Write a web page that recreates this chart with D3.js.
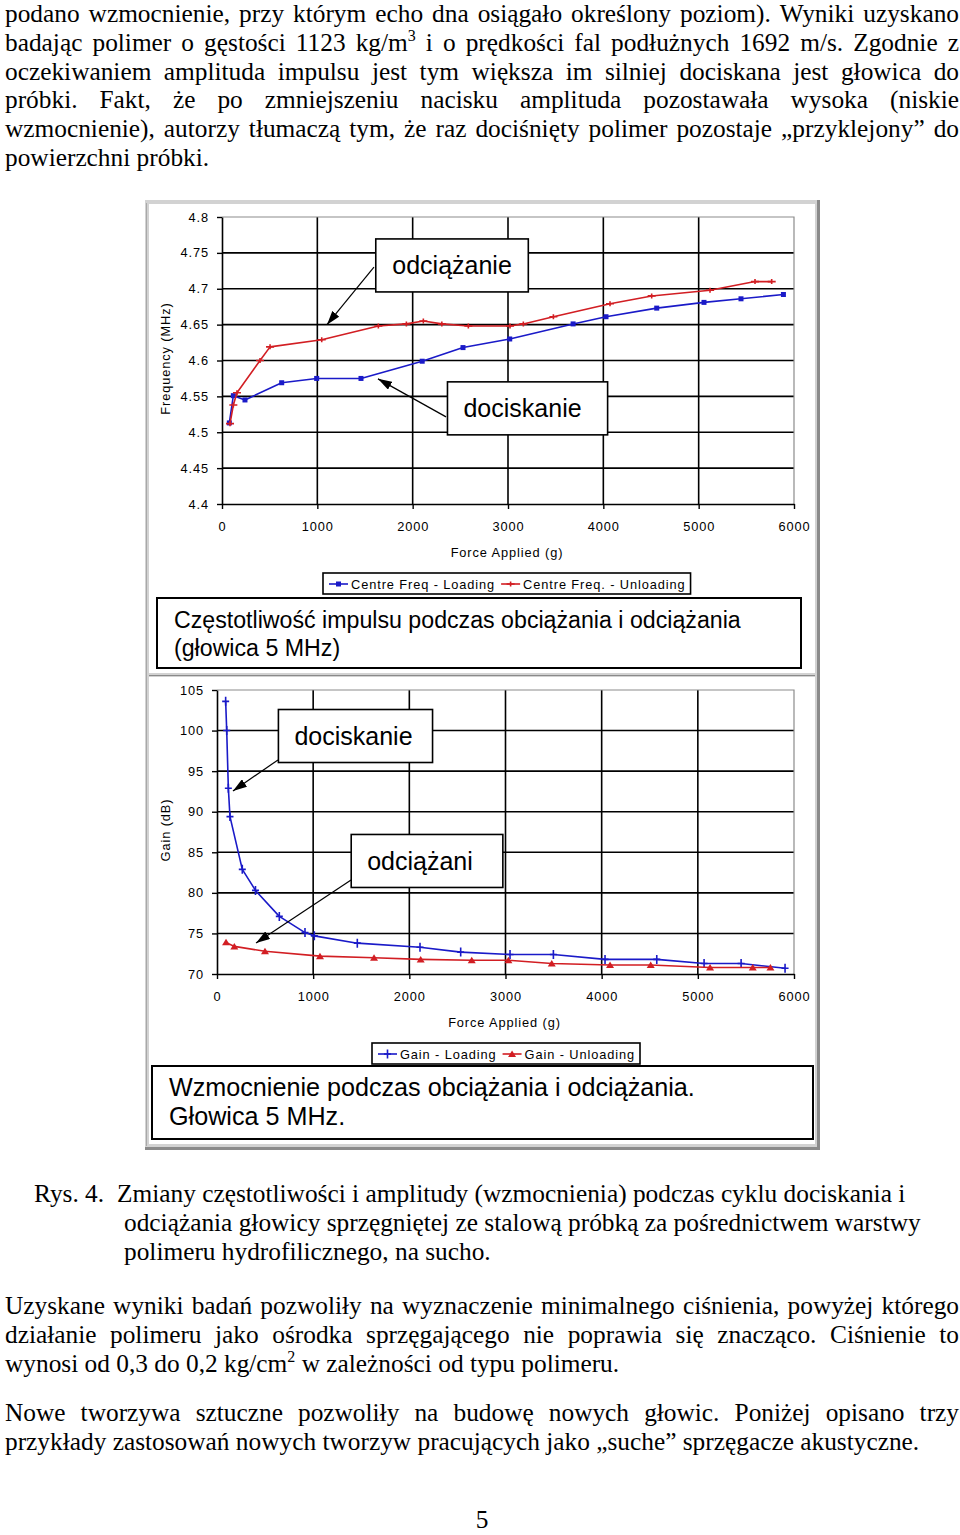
<!DOCTYPE html>
<html>
<head>
<meta charset="utf-8">
<script src="https://cdn.jsdelivr.net/npm/d3@7"></script>
<style>
  body { margin: 0; background: #fff; }
</style>
</head>
<body>
<svg id="page" width="960" height="1535"></svg>
<script>
// ---- text of the page ----
const introLines = [
  "podano wzmocnienie, przy którym echo dna osiągało określony poziom). Wyniki uzyskano",
  "badając polimer o gęstości 1123 kg/m^3 i o prędkości fal podłużnych 1692 m/s. Zgodnie z",
  "oczekiwaniem amplituda impulsu jest tym większa im silniej dociskana jest głowica do",
  "próbki. Fakt, że po zmniejszeniu nacisku amplituda pozostawała wysoka (niskie",
  "wzmocnienie), autorzy tłumaczą tym, że raz dociśnięty polimer pozostaje „przyklejony” do",
  "powierzchni próbki."
];
const captionLabel = "Rys. 4.";
const captionLines = [
  "Zmiany częstotliwości i amplitudy (wzmocnienia) podczas cyklu dociskania i",
  "odciążania głowicy sprzęgniętej ze stalową próbką za pośrednictwem warstwy",
  "polimeru hydrofilicznego, na sucho."
];
const resultLines = [
  "Uzyskane wyniki badań pozwoliły na wyznaczenie minimalnego ciśnienia, powyżej którego",
  "działanie polimeru jako ośrodka sprzęgającego nie poprawia się znacząco. Ciśnienie to",
  "wynosi od 0,3 do 0,2 kg/cm^2 w zależności od typu polimeru."
];
const outroLines = [
  "Nowe tworzywa sztuczne pozwoliły na budowę nowych głowic. Poniżej opisano trzy",
  "przykłady zastosowań nowych tworzyw pracujących jako „suche” sprzęgacze akustyczne."
];
const pageNumber = "5";

// ---- chart data ----
const forceTicks = [0, 1000, 2000, 3000, 4000, 5000, 6000];
const freqTicks = [4.4, 4.45, 4.5, 4.55, 4.6, 4.65, 4.7, 4.75, 4.8];
const freqTickLabels = ["4.4", "4.45", "4.5", "4.55", "4.6", "4.65", "4.7", "4.75", "4.8"];
const gainTicks = [70, 75, 80, 85, 90, 95, 100, 105];

const freqLoadForce = [77, 119, 241, 626, 993, 1458, 2100, 2528, 3018, 3683, 4028, 4560, 5056, 5444, 5889];
const freqLoad = [4.513, 4.551, 4.545, 4.569, 4.575, 4.575, 4.599, 4.618, 4.630, 4.651, 4.661, 4.673, 4.681, 4.686, 4.692];
const freqUnloadForce = [84, 119, 157, 399, 504, 1046, 1640, 1934, 2112, 2306, 2584, 3021, 3161, 3476, 4070, 4507, 5119, 5591, 5766];
const freqUnload = [4.512, 4.538, 4.555, 4.600, 4.619, 4.629, 4.648, 4.651, 4.655, 4.651, 4.648, 4.648, 4.651, 4.661, 4.679, 4.690, 4.698, 4.710, 4.710];

const gainLoadForce = [90, 101, 118, 135, 263, 400, 648, 915, 1012, 1459, 2111, 2534, 3047, 3498, 4035, 4573, 5065, 5450, 5907];
const gainLoad = [103.6, 100.0, 92.9, 89.4, 82.9, 80.3, 77.1, 75.1, 74.7, 73.8, 73.3, 72.7, 72.4, 72.4, 71.8, 71.8, 71.3, 71.3, 70.7];
const gainUnloadForce = [94, 180, 499, 1071, 1633, 2118, 2649, 3030, 3481, 4087, 4510, 5127, 5571, 5755];
const gainUnload = [73.9, 73.4, 72.8, 72.2, 72.0, 71.8, 71.7, 71.7, 71.3, 71.1, 71.1, 70.8, 70.8, 70.8];

const blue = "#1a1ac8";
const red = "#d21e23";
const serif = "'Liberation Serif','Times New Roman',serif";
const sans = "'Liberation Sans',Arial,sans-serif";
const bodySize = 25.35;

const svg = d3.select("#page");
svg.append("rect").attr("width", 960).attr("height", 1535).attr("fill", "#fff");

svg.append("defs").append("marker")
  .attr("id", "arrow")
  .attr("viewBox", "0 0 14 9")
  .attr("refX", 14).attr("refY", 4.5)
  .attr("markerWidth", 14).attr("markerHeight", 9)
  .attr("markerUnits", "userSpaceOnUse")
  .attr("orient", "auto")
  .append("path").attr("d", "M0,0L14,4.5L0,9Z").attr("fill", "#000");

// ---- body text, justified word by word ----
function textLine(str, x0, x1, y, justify) {
  const g = svg.append("g");
  const words = str.split(" ").map(w => {
    const t = g.append("text").attr("y", y)
      .attr("font-family", serif).attr("font-size", bodySize).attr("fill", "#000");
    const m = w.match(/^(.*)\^(\d)$/);
    if (m) {
      t.append("tspan").text(m[1]);
      t.append("tspan").attr("dy", -10).attr("font-size", 16).text(m[2]);
    } else {
      t.text(w);
    }
    return { t, w: t.node().getComputedTextLength() };
  });
  const total = d3.sum(words, d => d.w);
  const gap = justify && words.length > 1 ? (x1 - x0 - total) / (words.length - 1) : bodySize / 4;
  let x = x0;
  words.forEach(d => { d.t.attr("x", x); x += d.w + gap; });
}

introLines.forEach((s, i) => textLine(s, 5, 959, 22 + i * 28.8, i < introLines.length - 1));
textLine(captionLabel, 34, 0, 1202, false);
captionLines.forEach((s, i) => textLine(s, i === 0 ? 117 : 124, 0, 1202 + i * 29, false));
resultLines.forEach((s, i) => textLine(s, 5, 959, 1314 + i * 29, i < resultLines.length - 1));
outroLines.forEach((s, i) => textLine(s, 5, 959, 1421 + i * 29, i < outroLines.length - 1));
svg.append("text").attr("x", 482).attr("y", 1528).attr("text-anchor", "middle")
  .attr("font-family", serif).attr("font-size", bodySize).text(pageNumber);

// ---- figure frame ----
svg.append("rect").attr("x", 145).attr("y", 200).attr("width", 675).attr("height", 950).attr("fill", "#8a8a8a");
svg.append("rect").attr("x", 145).attr("y", 200).attr("width", 672).attr("height", 947).attr("fill", "#d2d2d2");
svg.append("line").attr("x1", 146.5).attr("x2", 146.5).attr("y1", 203).attr("y2", 1146).attr("stroke", "#a8a8a8");
svg.append("rect").attr("x", 149).attr("y", 204).attr("width", 666).attr("height", 940).attr("fill", "#fff");
svg.append("rect").attr("x", 149).attr("y", 673).attr("width", 666).attr("height", 4).attr("fill", "#d2d2d2");
svg.append("line").attr("x1", 149).attr("x2", 815).attr("y1", 675.5).attr("y2", 675.5).attr("stroke", "#8a8a8a");

// ---- markers ----
function drawMarker(sel, type, color) {
  if (type === "square") {
    sel.append("rect").attr("x", -2.5).attr("y", -2.5).attr("width", 5).attr("height", 5).attr("fill", color);
  } else if (type === "dash") {
    sel.append("path").attr("d", "M-4,0H4M0,-2.5V2.5").attr("stroke", color).attr("stroke-width", 1.6);
  } else if (type === "plus") {
    sel.append("path").attr("d", "M-3.5,0H3.5M0,-4.5V4.5").attr("stroke", color).attr("stroke-width", 1.6);
  } else if (type === "triangle") {
    sel.append("path").attr("d", "M0,-3.5L4,3L-4,3Z").attr("fill", color);
  }
}

function smallText(sel) {
  return sel.attr("font-family", sans).attr("font-size", 12.8)
    .attr("letter-spacing", 0.9).attr("fill", "#000");
}

// ---- chart builder ----
function drawChart(cfg) {
  const g = svg.append("g");
  const x = d3.scaleLinear().domain([forceTicks[0], forceTicks[forceTicks.length - 1]]).range([cfg.left, cfg.right]);
  const y = d3.scaleLinear().domain([cfg.yTicks[0], cfg.yTicks[cfg.yTicks.length - 1]]).range([cfg.bottom, cfg.top]);

  // grid
  g.append("g").selectAll("line").data(cfg.yTicks.slice(1, -1)).join("line")
    .attr("x1", cfg.left).attr("x2", cfg.right)
    .attr("y1", d => y(d)).attr("y2", d => y(d))
    .attr("stroke", "#000").attr("stroke-width", 1.6);
  g.append("g").selectAll("line").data(forceTicks.slice(1, -1)).join("line")
    .attr("x1", d => x(d)).attr("x2", d => x(d))
    .attr("y1", cfg.top).attr("y2", cfg.bottom)
    .attr("stroke", "#000").attr("stroke-width", 1.6);
  g.append("path")
    .attr("d", `M${cfg.left},${cfg.top}H${cfg.right}V${cfg.bottom}`)
    .attr("fill", "none").attr("stroke", "#8c8c8c").attr("stroke-width", 1.2);

  // axes
  const yAxis = g.append("g")
    .attr("transform", `translate(${cfg.left},0)`)
    .call(d3.axisLeft(y).tickValues(cfg.yTicks).tickFormat((d, i) => cfg.yLabels[i])
      .tickSize(5).tickSizeOuter(0).tickPadding(8));
  const xAxis = g.append("g")
    .attr("transform", `translate(0,${cfg.bottom})`)
    .call(d3.axisBottom(x).tickValues(forceTicks).tickFormat(d3.format("d"))
      .tickSize(5).tickSizeOuter(0).tickPadding(13));
  [yAxis, xAxis].forEach(a => {
    a.select(".domain").attr("stroke", "#000").attr("stroke-width", 1.6);
    a.selectAll(".tick line").attr("stroke", "#000").attr("stroke-width", 1.4);
    smallText(a.selectAll(".tick text"));
    a.attr("font-size", null).attr("font-family", null);
  });

  smallText(g.append("text"))
    .attr("x", (cfg.left + cfg.right) / 2 - 1).attr("y", cfg.bottom + 53)
    .attr("text-anchor", "middle").text(cfg.xTitle);
  smallText(g.append("text"))
    .attr("transform", `translate(170,${(cfg.top + cfg.bottom) / 2 - 2})rotate(-90)`)
    .attr("text-anchor", "middle").text(cfg.yTitle);

  // series
  const line = d3.line().x(d => x(d[0])).y(d => y(d[1]));
  cfg.series.forEach(s => {
    const pts = s.xs.map((v, i) => [v, s.ys[i]]);
    g.append("path").datum(pts)
      .attr("fill", "none").attr("stroke", s.color).attr("stroke-width", 1.6)
      .attr("stroke-linejoin", "round").attr("d", line);
    g.append("g").selectAll("g").data(pts).join("g")
      .attr("transform", d => `translate(${x(d[0])},${y(d[1])})`)
      .each(function () { drawMarker(d3.select(this), s.marker, s.color); });
  });

  // annotations
  cfg.notes.forEach(n => {
    g.append("line")
      .attr("x1", x(n.from[0])).attr("y1", y(n.from[1]))
      .attr("x2", x(n.to[0])).attr("y2", y(n.to[1]))
      .attr("stroke", "#000").attr("stroke-width", 1.2)
      .attr("marker-end", "url(#arrow)");
    const cx = x(n.at[0]), cy = y(n.at[1]);
    const box = g.append("rect").attr("fill", "#fff").attr("stroke", "#000").attr("stroke-width", 1.6);
    const t = g.append("text").attr("x", cx - n.shift).attr("y", cy + 9)
      .attr("text-anchor", "middle").attr("font-family", sans).attr("font-size", 25)
      .attr("fill", "#000").text(n.label);
    const w = t.node().getComputedTextLength() + n.pad;
    box.attr("x", cx - w / 2).attr("y", cy - 26.5).attr("width", w).attr("height", 53);
  });

  // legend
  const lg = cfg.legend;
  const lgBox = g.append("rect").attr("x", lg.x).attr("y", lg.y).attr("height", 21)
    .attr("fill", "#fff").attr("stroke", "#000").attr("stroke-width", 1.6);
  let lx = lg.x + 6;
  cfg.series.forEach(s => {
    g.append("line").attr("x1", lx).attr("x2", lx + 19).attr("y1", lg.y + 11).attr("y2", lg.y + 11)
      .attr("stroke", s.color).attr("stroke-width", 1.6);
    drawMarker(g.append("g").attr("transform", `translate(${lx + 9.5},${lg.y + 11})`), s.marker, s.color);
    const t = smallText(g.append("text")).attr("x", lx + 22).attr("y", lg.y + 16).text(s.label);
    lx += 22 + t.node().getComputedTextLength() + 6;
  });
  lgBox.attr("width", lx - lg.x - 1);

  // title box
  const tb = cfg.titleBox;
  g.append("rect").attr("x", tb.x).attr("y", tb.y).attr("width", tb.w).attr("height", tb.h)
    .attr("fill", "#fff").attr("stroke", "#000").attr("stroke-width", 2);
  const first = g.append("text").attr("x", tb.x + 17).attr("y", tb.y + 30)
    .attr("font-family", sans).attr("font-size", 22).text(cfg.title[0]);
  const fs = 22 * tb.firstWidth / first.node().getComputedTextLength();
  first.attr("font-size", fs);
  g.append("text").attr("x", tb.x + 17).attr("y", tb.y + 30 + tb.lineGap)
    .attr("font-family", sans).attr("font-size", fs).text(cfg.title[1]);
}

drawChart({
  left: 222, right: 794, top: 217, bottom: 504,
  yTicks: freqTicks, yLabels: freqTickLabels,
  xTitle: "Force Applied (g)", yTitle: "Frequency (MHz)",
  series: [
    { label: "Centre Freq - Loading", xs: freqLoadForce, ys: freqLoad, color: blue, marker: "square" },
    { label: "Centre Freq. - Unloading", xs: freqUnloadForce, ys: freqUnload, color: red, marker: "dash" }
  ],
  notes: [
    { label: "odciążanie", at: [2413, 4.7325], from: [1594, 4.730], to: [1101, 4.650], pad: 33, shift: 0 },
    { label: "dociskanie", at: [3205, 4.5333], from: [2350, 4.5214], to: [1636, 4.5744], pad: 42, shift: 5 }
  ],
  legend: { x: 323, y: 573 },
  titleBox: { x: 157, y: 598, w: 644, h: 70, firstWidth: 567, lineGap: 28 },
  title: ["Częstotliwość impulsu podczas obciążania i odciążania", "(głowica 5 MHz)"]
});

drawChart({
  left: 217, right: 794, top: 690, bottom: 974,
  yTicks: gainTicks, yLabels: gainTicks.map(String),
  xTitle: "Force Applied (g)", yTitle: "Gain (dB)",
  series: [
    { label: "Gain - Loading", xs: gainLoadForce, ys: gainLoad, color: blue, marker: "plus" },
    { label: "Gain - Unloading", xs: gainUnloadForce, ys: gainUnload, color: red, marker: "triangle" }
  ],
  notes: [
    { label: "dociskanie", at: [1440, 99.33], from: [634, 96.38], to: [166, 92.56], pad: 36, shift: 2 },
    { label: "odciążani", at: [2184, 83.93], from: [1394, 81.59], to: [406, 73.83], pad: 46, shift: 7 }
  ],
  legend: { x: 372, y: 1043 },
  titleBox: { x: 152, y: 1066, w: 661, h: 73, firstWidth: 526, lineGap: 29 },
  title: ["Wzmocnienie podczas obciążania i odciążania.", "Głowica 5 MHz."]
});
</script>
</body>
</html>
